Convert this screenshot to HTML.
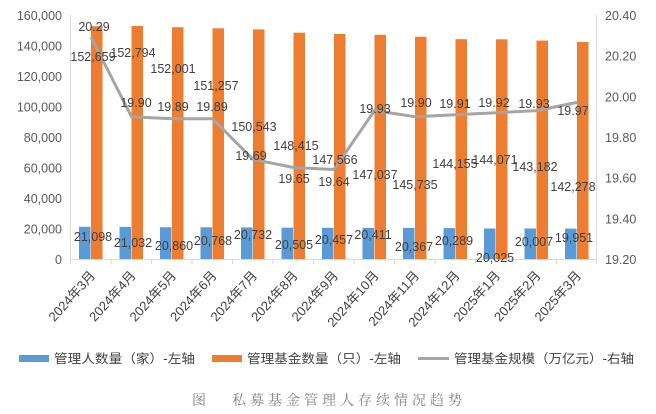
<!DOCTYPE html>
<html><head><meta charset="utf-8"><style>
html,body{margin:0;padding:0;background:#fff;}
svg{display:block;font-family:"Liberation Sans","Noto Sans CJK SC",sans-serif;}
</style></head><body>
<svg width="656" height="414" viewBox="0 0 656 414" xmlns="http://www.w3.org/2000/svg">
<line x1="70.5" y1="15" x2="70.5" y2="259" stroke="#d9d9d9"/>
<line x1="70" y1="259.5" x2="597" y2="259.5" stroke="#d9d9d9"/>
<line x1="596.5" y1="15" x2="596.5" y2="259" stroke="#d9d9d9"/>
<g stroke="#d9d9d9">
<line x1="70.5" y1="259" x2="70.5" y2="264"/><line x1="111" y1="259" x2="111" y2="264"/><line x1="151.5" y1="259" x2="151.5" y2="264"/><line x1="192" y1="259" x2="192" y2="264"/><line x1="232.5" y1="259" x2="232.5" y2="264"/><line x1="273" y1="259" x2="273" y2="264"/><line x1="313.5" y1="259" x2="313.5" y2="264"/><line x1="354" y1="259" x2="354" y2="264"/><line x1="394.5" y1="259" x2="394.5" y2="264"/><line x1="435" y1="259" x2="435" y2="264"/><line x1="475.5" y1="259" x2="475.5" y2="264"/><line x1="516" y1="259" x2="516" y2="264"/><line x1="556.5" y1="259" x2="556.5" y2="264"/><line x1="596.5" y1="259" x2="596.5" y2="264"/>
</g>
<g font-size="12.5" fill="#595959" text-anchor="end">
<text x="62" y="20">160,000</text><text x="62" y="50.5">140,000</text><text x="62" y="81">120,000</text><text x="62" y="111.5">100,000</text><text x="62" y="142">80,000</text><text x="62" y="172.5">60,000</text><text x="62" y="203">40,000</text><text x="62" y="233.5">20,000</text><text x="62" y="264">0</text>
</g>
<g font-size="12.5" fill="#595959">
<text x="605" y="20">20.40</text><text x="605" y="60.7">20.20</text><text x="605" y="101.3">20.00</text><text x="605" y="142">19.80</text><text x="605" y="182.7">19.60</text><text x="605" y="223.3">19.40</text><text x="605" y="264">19.20</text>
</g>
<g fill="#ed7d31">
<rect x="91" y="26.2" width="11.5" height="232.8"/><rect x="131.5" y="26" width="11.5" height="233"/><rect x="172" y="27.2" width="11.5" height="231.8"/><rect x="212.5" y="28.3" width="11.5" height="230.7"/><rect x="253" y="29.4" width="11.5" height="229.6"/><rect x="293.5" y="32.7" width="11.5" height="226.3"/><rect x="334" y="34" width="11.5" height="225"/><rect x="374.5" y="34.8" width="11.5" height="224.2"/><rect x="415" y="36.8" width="11.5" height="222.2"/><rect x="455.5" y="39.2" width="11.5" height="219.8"/><rect x="496" y="39.3" width="11.5" height="219.7"/><rect x="536.5" y="40.6" width="11.5" height="218.4"/><rect x="577" y="42" width="11.5" height="217"/>
</g>
<g fill="#5b9bd5">
<rect x="79" y="226.8" width="11.5" height="32.2"/><rect x="119.5" y="226.9" width="11.5" height="32.1"/><rect x="160" y="227.2" width="11.5" height="31.8"/><rect x="200.5" y="227.3" width="11.5" height="31.7"/><rect x="241" y="227.4" width="11.5" height="31.6"/><rect x="281.5" y="227.7" width="11.5" height="31.3"/><rect x="322" y="227.8" width="11.5" height="31.2"/><rect x="362.5" y="227.9" width="11.5" height="31.1"/><rect x="403" y="227.9" width="11.5" height="31.1"/><rect x="443.5" y="228.1" width="11.5" height="30.9"/><rect x="484" y="228.5" width="11.5" height="30.5"/><rect x="524.5" y="228.5" width="11.5" height="30.5"/><rect x="565" y="228.6" width="11.5" height="30.4"/>
</g>
<polyline fill="none" stroke="#a5a5a5" stroke-width="3" stroke-linejoin="round" points="91,37 131.5,116.7 172,118.7 212.5,118.7 253,159.4 293.5,167.5 334,169.5 374.5,110.6 415,116.7 455.5,114.7 496,112.7 536.5,110.6 577,102.4"/>
<g font-size="12.5" fill="#404040" text-anchor="middle">
<text x="93" y="61">152,659</text><text x="133" y="57">152,794</text><text x="173" y="73">152,001</text><text x="216" y="90">151,257</text><text x="254" y="131">150,543</text><text x="296" y="150">148,415</text><text x="335" y="164">147,566</text><text x="375" y="179">147,037</text><text x="415" y="189">145,735</text><text x="455" y="168">144,155</text><text x="495" y="164">144,071</text><text x="535" y="171">143,182</text><text x="573" y="191">142,278</text>
<text x="94" y="31">20.29</text><text x="136" y="107">19.90</text><text x="173" y="111">19.89</text><text x="212" y="111">19.89</text><text x="251" y="160">19.69</text><text x="294" y="183">19.65</text><text x="334" y="186">19.64</text><text x="375" y="113">19.93</text><text x="416" y="107">19.90</text><text x="455" y="108">19.91</text><text x="494" y="107">19.92</text><text x="534" y="108">19.93</text><text x="573" y="115">19.97</text>
<text x="93" y="241">21,098</text><text x="133" y="247">21,032</text><text x="174" y="250">20,860</text><text x="213" y="245">20,768</text><text x="253" y="239">20,732</text><text x="294" y="249">20,505</text><text x="334" y="244">20,457</text><text x="373" y="239">20,411</text><text x="414" y="251">20,367</text><text x="454" y="245">20,289</text><text x="495" y="262">20,025</text><text x="534" y="246">20,007</text><text x="574" y="242">19,951</text>
</g>
<g font-size="13" fill="#404040" text-anchor="end">
<text transform="translate(96,276) rotate(-48)">2024年3月</text>
<text transform="translate(136.5,276) rotate(-48)">2024年4月</text>
<text transform="translate(177,276) rotate(-48)">2024年5月</text>
<text transform="translate(217.5,276) rotate(-48)">2024年6月</text>
<text transform="translate(258,276) rotate(-48)">2024年7月</text>
<text transform="translate(298.5,276) rotate(-48)">2024年8月</text>
<text transform="translate(339,276) rotate(-48)">2024年9月</text>
<text transform="translate(379.5,276) rotate(-48)">2024年10月</text>
<text transform="translate(420,276) rotate(-48)">2024年11月</text>
<text transform="translate(460.5,276) rotate(-48)">2024年12月</text>
<text transform="translate(501,276) rotate(-48)">2025年1月</text>
<text transform="translate(541.5,276) rotate(-48)">2025年2月</text>
<text transform="translate(582,276) rotate(-48)">2025年3月</text>
</g>
<rect x="19" y="355" width="30" height="7" fill="#5b9bd5"/>
<text x="54" y="363" font-size="12.5" fill="#404040" textLength="141" lengthAdjust="spacingAndGlyphs">管理人数量（家）-左轴</text>
<rect x="212" y="355" width="30" height="7" fill="#ed7d31"/>
<text x="247" y="363" font-size="12.5" fill="#404040" textLength="154" lengthAdjust="spacingAndGlyphs">管理基金数量（只）-左轴</text>
<line x1="418" y1="358.5" x2="449" y2="358.5" stroke="#a5a5a5" stroke-width="3"/>
<text x="454" y="363" font-size="12.5" fill="#404040" textLength="180" lengthAdjust="spacingAndGlyphs">管理基金规模（万亿元）-右轴</text>
<text x="192" y="405" font-size="14" fill="#808080" style="font-family:'Noto Serif CJK SC',serif">图</text>
<text x="232" y="405" font-size="14" fill="#808080" textLength="230" style="font-family:'Noto Serif CJK SC',serif">私募基金管理人存续情况趋势</text>
</svg>
</body></html>
